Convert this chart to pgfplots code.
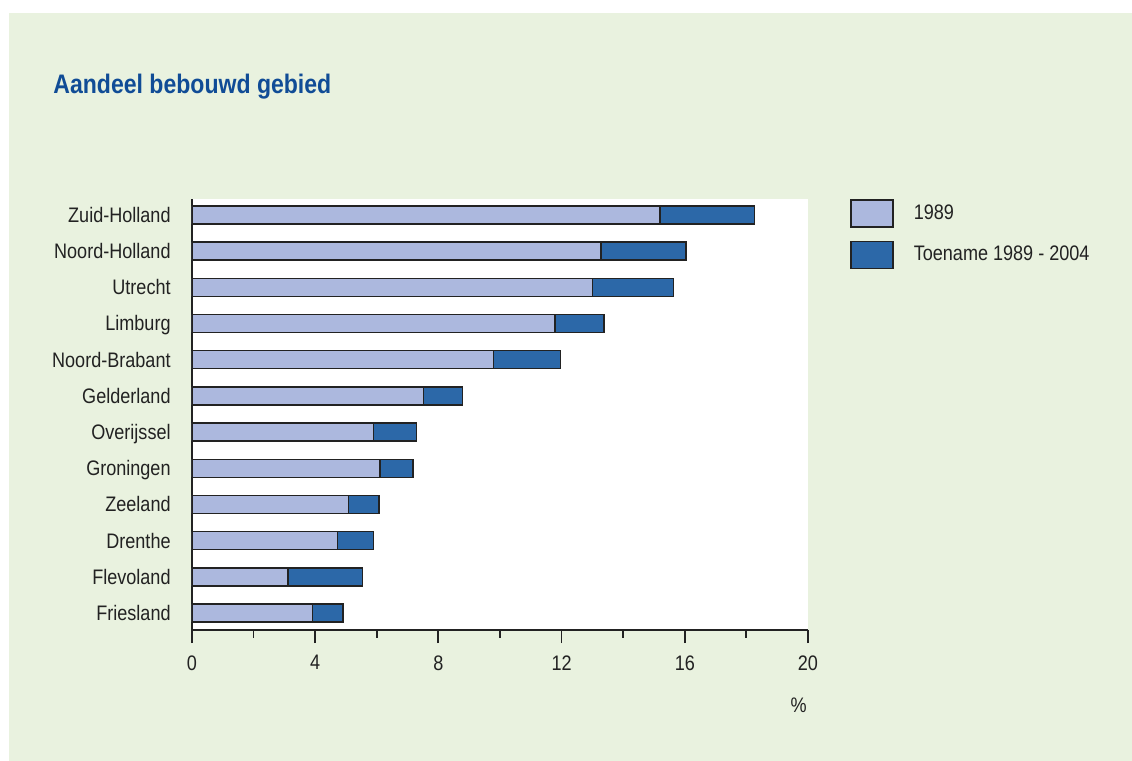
\documentclass[border=0pt]{standalone}
\usepackage{fontspec}
\setmainfont{Liberation Sans}[FakeStretch=0.86]
\usepackage{pgfplots}
\pgfplotsset{compat=1.18}
\usepackage{pgfplotstable}

\definecolor{panelgreen}{HTML}{E9F2DF}
\definecolor{bareighty}{HTML}{ACB8DE}
\definecolor{barinc}{HTML}{2C68A8}
\definecolor{titleblue}{HTML}{104C96}
\definecolor{ink}{HTML}{222222}

% Share of built-up area per province (%): level in 1989 and increase 1989-2004
\pgfplotstableread{
idx base  incr
0   3.91  0.99
1   3.12  2.42
2   4.73  1.17
3   5.08  0.99
4   6.11  1.07
5   5.89  1.39
6   7.52  1.27
7   9.79  2.17
8   11.79 1.59
9   13.00 2.63
10  13.28 2.76
11  15.19 3.07
}\bebouwd

\newcommand{\labelfont}{\fontsize{10.5}{12.5}\selectfont}

\begin{document}
\begin{tikzpicture}
\path[use as bounding box] (0pt,0pt) rectangle (566pt,380.5pt);
\fill[white] (0pt,0pt) rectangle (566pt,380.5pt);
\fill[panelgreen] (4.5pt,0pt) rectangle (566pt,374pt);
\node[anchor=base west, inner sep=0pt, text=titleblue,
      font=\fontsize{13.4}{16}\selectfont\bfseries] at (26.5pt,333.5pt) {Aandeel bebouwd gebied};
\begin{axis}[
  at={(96pt,65.5pt)}, anchor=south west,
  scale only axis, width=308pt, height=215.5pt,
  xbar stacked, bar width=9pt,
  xmin=0, xmax=20, ymin=-0.47, ymax=11.44,
  axis x line*=bottom, axis y line*=left,
  axis line style={ink, line width=0.8pt},
  axis background/.style={fill=white},
  xtick={0,4,8,12,16,20}, minor xtick={2,6,10,14,18},
  tick align=outside,
  major tick length=6.5pt, minor tick length=4pt,
  major x tick style={ink, line width=0.9pt},
  minor x tick style={ink, line width=0.9pt},
  ytick={0,...,11},
  yticklabels={Friesland,Flevoland,Drenthe,Zeeland,Groningen,Overijssel,
    Gelderland,Noord-Brabant,Limburg,Utrecht,Noord-Holland,Zuid-Holland},
  y tick style={draw=none},
  tick label style={font=\labelfont, text=ink},
  /pgf/number format/assume math mode=true,
  xticklabel style={inner sep=0pt, yshift=-6pt},
  yticklabel style={anchor=base east, inner sep=0pt, xshift=-4pt, yshift=-3.75pt},
  xlabel={\%},
  xlabel style={at={(axis description cs:0.985,0)}, anchor=center,
    yshift=-37.5pt, font=\labelfont, text=ink},
  legend style={at={(rel axis cs:1,1)}, anchor=north west, xshift=21pt,
    draw=none, fill=none, inner sep=0pt, row sep=6.5pt, column sep=10pt,
    font=\labelfont, nodes={inner sep=0pt, text=ink}},
  legend cell align=left,
]
\addplot[fill=bareighty, draw=ink, line width=0.7pt,
  legend image code/.code={\draw[fill=bareighty, draw=ink, line width=0.7pt]
    (0pt,-6.75pt) rectangle (21pt,6.75pt);}]
  table[x=base, y=idx] {\bebouwd};
\addplot[fill=barinc, draw=ink, line width=0.7pt,
  legend image code/.code={\draw[fill=barinc, draw=ink, line width=0.7pt]
    (0pt,-6.75pt) rectangle (21pt,6.75pt);}]
  table[x=incr, y=idx] {\bebouwd};
\legend{1989, Toename 1989 - 2004}
\end{axis}
\end{tikzpicture}
\end{document}
